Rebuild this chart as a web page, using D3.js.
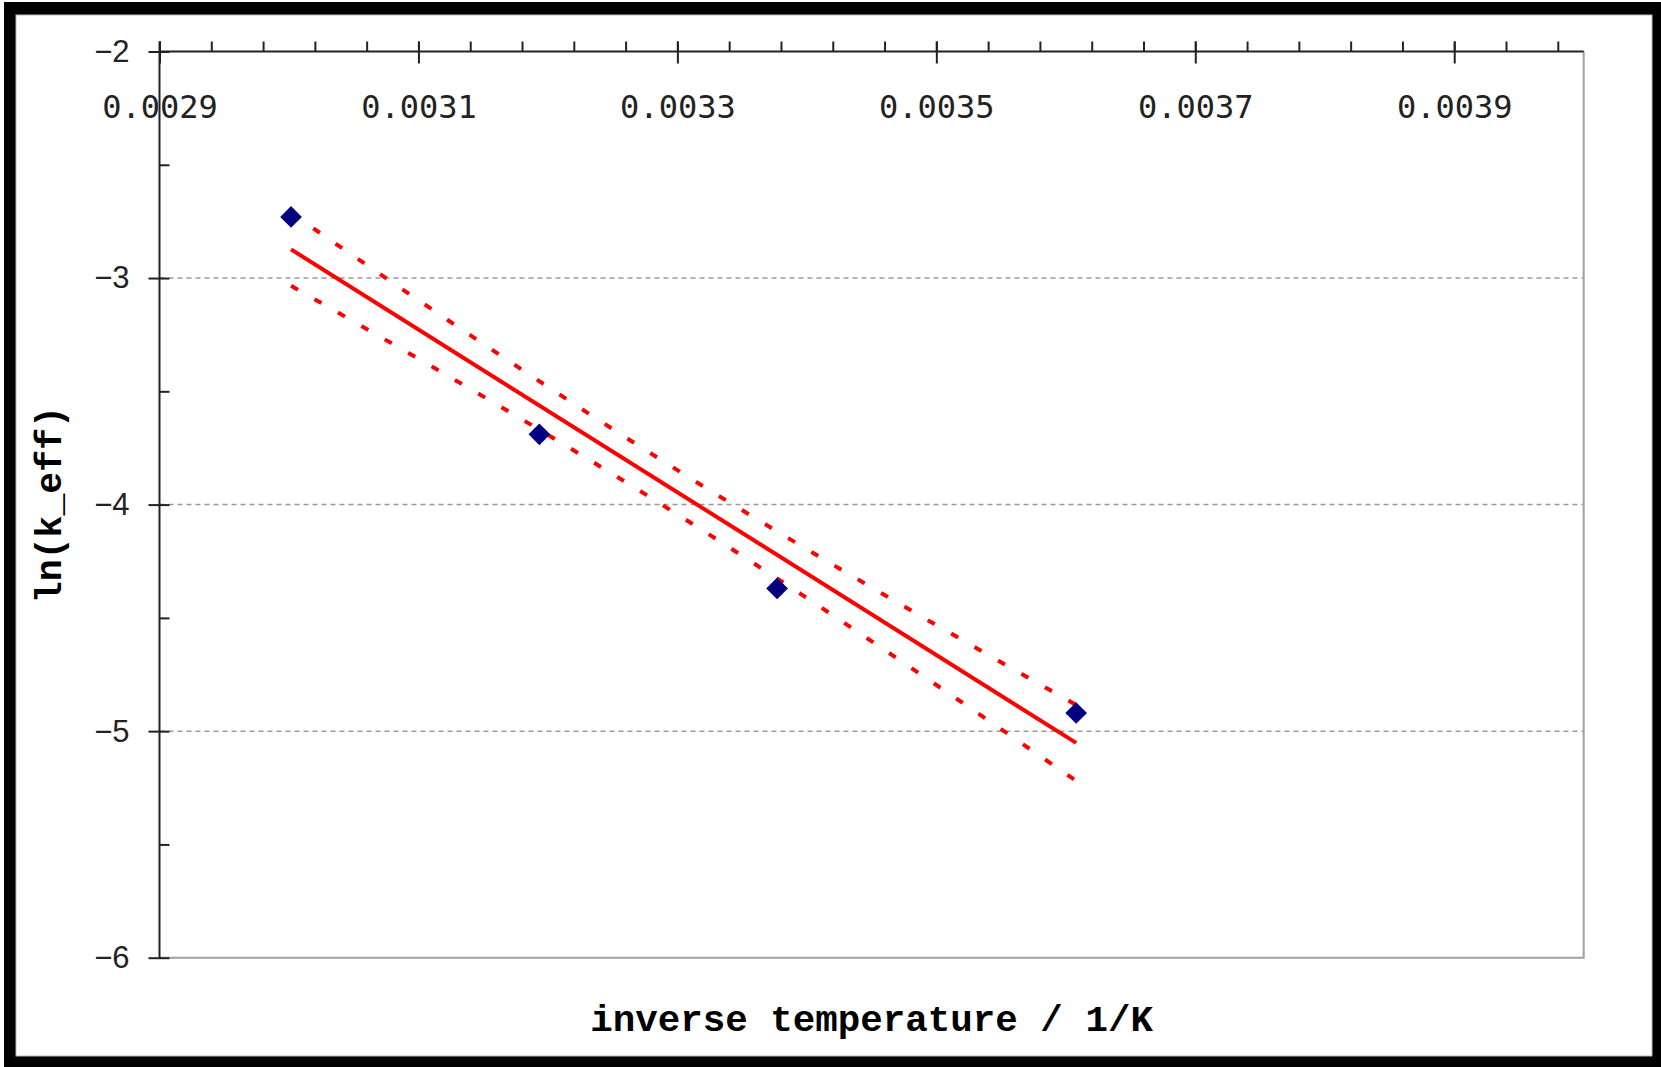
<!doctype html>
<html>
<head>
<meta charset="utf8">
<style>
    body { margin: 0; background: #fff; }
    .tick text { fill: #222; }
</style>
<script src="https://d3js.org/d3.v7.min.js"></script>
</head>
<body>
<svg width="1661" height="1067"></svg>
<script>
    // measured points: inverse temperature (1/K) and ln(k_eff)
    var invT = [0.0030016, 0.0031934, 0.003377, 0.003608];
    var lnK = [-2.73, -3.69, -4.37, -4.92];

    var xMajor = [0.0029, 0.0031, 0.0033, 0.0035, 0.0037, 0.0039];
    var xMinorStep = 0.00004;
    var yMajor = [-2, -3, -4, -5, -6];
    var yMinor = [-2.5, -3.5, -4.5, -5.5];
    var yGrid = [-3, -4, -5];

    var svg = d3.select("svg");
    var pLeft = 159.5, pRight = 1583.7, pTop = 51.5, pBottom = 957.7;

    // window frame
    svg.append("rect").attr("x", 4).attr("y", 2).attr("width", 1657).attr("height", 1065).attr("fill", "#000");
    svg.append("rect").attr("x", 16).attr("y", 15).attr("width", 1636).attr("height", 1041)
       .attr("fill", "#fff").attr("stroke", "#bbb").attr("stroke-width", 1);

    var x = d3.scaleLinear().domain([0.0029, 0.0040]).range([pLeft, pRight]);
    var y = d3.scaleLinear().domain([-6, -2]).range([pBottom, pTop]);

    // grid
    svg.append("g").selectAll("line").data(yGrid).enter().append("line")
       .attr("x1", pLeft).attr("x2", pRight)
       .attr("y1", function(d) { return y(d); }).attr("y2", function(d) { return y(d); })
       .attr("stroke", "#999").attr("stroke-width", 1.5).attr("stroke-dasharray", "5,4");

    // right and bottom border
    svg.append("path")
       .attr("d", "M" + pLeft + "," + pBottom + "H" + pRight + "V" + pTop)
       .attr("fill", "none").attr("stroke", "#a0a0a0").attr("stroke-width", 2);

    // least squares fit with standard error band
    var n = invT.length,
        mx = d3.mean(invT), my = d3.mean(lnK),
        sxx = d3.sum(invT, function(v) { return (v - mx) * (v - mx); }),
        sxy = d3.sum(invT, function(v, i) { return (v - mx) * (lnK[i] - my); }),
        slope = sxy / sxx,
        icpt = my - slope * mx;
    var sse = d3.sum(invT, function(v, i) { var r = lnK[i] - (icpt + slope * v); return r * r; });
    var s = Math.sqrt(sse / (n - 2));

    var xs = d3.range(0, 61).map(function(i) { return invT[0] + (invT[n - 1] - invT[0]) * i / 60; });
    function fit(v) { return icpt + slope * v; }
    function se(v) { return s * Math.sqrt(1 / n + (v - mx) * (v - mx) / sxx); }

    var line = d3.line().x(function(d) { return x(d[0]); }).y(function(d) { return y(d[1]); });

    [1, -1].forEach(function(sign) {
        svg.append("path")
           .attr("d", line(xs.map(function(v) { return [v, fit(v) + sign * se(v)]; })))
           .attr("fill", "none").attr("stroke", "#ff0000").attr("stroke-width", 4)
           .attr("stroke-dasharray", "8,19");
    });

    svg.append("path")
       .attr("d", line([[invT[0], fit(invT[0])], [invT[n - 1], fit(invT[n - 1])]]))
       .attr("fill", "none").attr("stroke", "#ff0000").attr("stroke-width", 4);

    // data points
    svg.append("g").selectAll("path").data(invT).enter().append("path")
       .attr("d", d3.symbol().type(d3.symbolSquare).size(235))
       .attr("transform", function(d, i) { return "translate(" + x(d) + "," + y(lnK[i]) + ") rotate(45)"; })
       .attr("fill", "#000080");

    // x axis along the top
    svg.append("g")
       .attr("transform", "translate(0," + pTop + ")")
       .call(d3.axisTop(x).tickValues(d3.range(0.0029, 0.00400, xMinorStep)).tickSize(10).tickFormat(""))
       .call(function(g) { g.selectAll("line").attr("stroke", "#222").attr("stroke-width", 2); })
       .call(function(g) { g.select(".domain").remove(); });

    var xg = svg.append("g")
       .attr("transform", "translate(0," + pTop + ")")
       .call(d3.axisTop(x).tickValues(xMajor).tickSize(10).tickFormat(d3.format(".4f")));
    xg.select(".domain").attr("d", "M" + pLeft + ",0H" + pRight).attr("stroke", "#222").attr("stroke-width", 2);
    xg.selectAll(".tick line").attr("y2", -10).attr("y1", 12).attr("stroke", "#222").attr("stroke-width", 2);
    xg.selectAll(".tick text").attr("y", 66).attr("dy", 0)
       .attr("font-family", "'DejaVu Sans Mono', monospace").attr("font-size", 32);

    // y axis on the left
    svg.append("g")
       .attr("transform", "translate(" + pLeft + ",0)")
       .call(d3.axisRight(y).tickValues(yMinor).tickSize(10).tickFormat(""))
       .call(function(g) { g.selectAll("line").attr("stroke", "#222").attr("stroke-width", 2); })
       .call(function(g) { g.select(".domain").remove(); });

    var yg = svg.append("g")
       .attr("transform", "translate(" + pLeft + ",0)")
       .call(d3.axisLeft(y).tickValues(yMajor).tickSize(10).tickPadding(20).tickFormat(d3.format("d")));
    yg.select(".domain").attr("d", "M0," + (pTop - 10) + "V" + pBottom).attr("stroke", "#222").attr("stroke-width", 2);
    yg.selectAll(".tick line").attr("x2", -11).attr("x1", 10).attr("stroke", "#222").attr("stroke-width", 2);
    yg.selectAll(".tick text")
       .attr("font-family", "'Liberation Sans', Arial, sans-serif").attr("font-size", 31);

    // axis titles
    svg.append("text")
       .attr("x", (pLeft + pRight) / 2).attr("y", 1031)
       .attr("text-anchor", "middle")
       .attr("font-family", "'Liberation Mono', 'Courier New', monospace")
       .attr("font-weight", "bold").attr("font-size", 37.5)
       .text("inverse temperature / 1/K");

    svg.append("text")
       .attr("transform", "translate(61," + (pTop + pBottom) / 2 + ") rotate(-90)")
       .attr("text-anchor", "middle")
       .attr("font-family", "'Liberation Mono', 'Courier New', monospace")
       .attr("font-weight", "bold").attr("font-size", 36.5)
       .text("ln(k_eff)");
</script>
</body>
</html>
